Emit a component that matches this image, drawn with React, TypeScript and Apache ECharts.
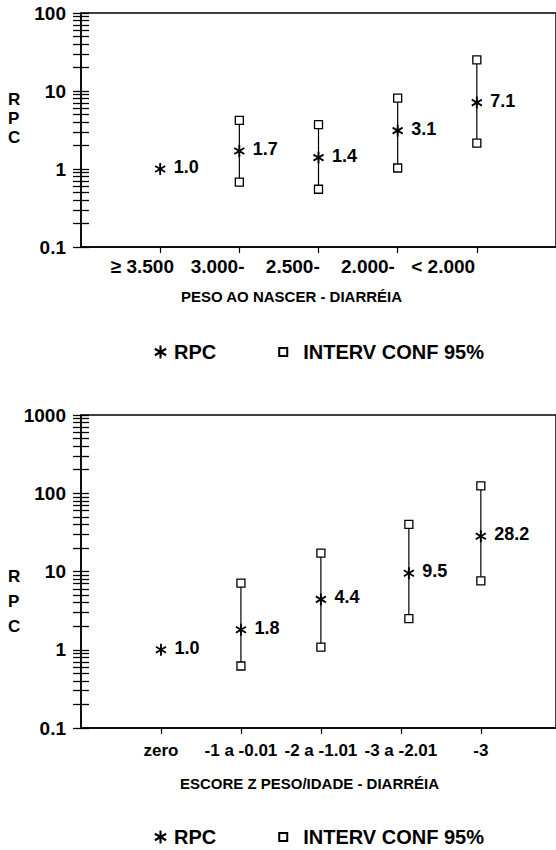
import React, { useEffect, useRef } from 'react';
import * as echarts from 'echarts';

// ---------- data ----------
const weightCategories = ['≥ 3.500', '3.000-', '2.500-', '2.000-', '< 2.000'];
const weightX = [1, 2, 3, 4, 5];
const weightRPC = [1.0, 1.7, 1.4, 3.1, 7.1];
const weightLow = [null, 0.68, 0.55, 1.03, 2.15];
const weightHigh = [null, 4.2, 3.7, 8.1, 25];

const zCategories = ['zero', '-1 a -0.01', '-2 a -1.01', '-3 a -2.01', '-3'];
const zX = [1, 2, 3, 4.1, 5];
const zRPC = [1.0, 1.8, 4.4, 9.5, 28.2];
const zLow = [null, 0.62, 1.08, 2.5, 7.6];
const zHigh = [null, 7.1, 17.2, 40, 124];

const topDecades = [0.1, 1, 10, 100];
const bottomDecades = [0.1, 1, 10, 100, 1000];
const minorFactors = [1, 2, 3, 4, 5, 6, 7, 8, 9];

const legendNames = ['RPC', 'INTERV CONF 95%'];
const yTitle = 'RPC';
const xTitleTop = 'PESO AO NASCER - DIARRÉIA';
const xTitleBottom = 'ESCORE Z PESO/IDADE - DIARRÉIA';

// ---------- helpers ----------
const FONT = '"Liberation Sans", Arial, Helvetica, sans-serif';
const STAR =
  'M4.2,0 L4.2,10 L5.8,10 L5.8,0 Z M8.93,8.193 L9.73,6.807 L1.07,1.807 L0.27,3.193 Z M0.27,6.807 L1.07,8.193 L9.73,3.193 L8.93,1.807 Z';
const starSymbol = 'path://' + STAR;
const starLegend = 'path://M-0.77,-0.38 M11.54,10.38 ' + STAR;
const squareLegend = 'path://M0,0 M16,14 M5,3 L13,3 L13,11 L5,11 Z';

function logTicks(decades: number[]) {
  const out: number[] = [];
  decades.forEach((d, i) => {
    if (i === decades.length - 1) {
      out.push(d);
      return;
    }
    minorFactors.forEach((f) => out.push(parseFloat((f * d).toPrecision(3))));
  });
  return out;
}

function yAxesFor(gridIndex: number, decades: number[]) {
  const ticksLog = logTicks(decades).map((v) => Math.log10(v));
  const lo = Math.log10(decades[0]);
  const hi = Math.log10(decades[decades.length - 1]);
  const tickAxis = (inside: boolean) => ({
    type: 'value',
    gridIndex,
    position: 'left',
    min: lo,
    max: hi,
    splitLine: { show: false },
    axisLine: { show: false, onZero: false },
    axisLabel: { show: false },
    axisTick: {
      show: true,
      inside,
      length: 8,
      customValues: ticksLog,
      lineStyle: { color: '#000', width: 1.3 },
    },
  });
  return [
    {
      type: 'log',
      logBase: 10,
      gridIndex,
      position: 'left',
      min: decades[0],
      max: decades[decades.length - 1],
      splitLine: { show: false },
      axisLine: { show: true, onZero: false, lineStyle: { color: '#000', width: 1.5 } },
      axisTick: { show: false },
      axisLabel: {
        color: '#000',
        fontFamily: FONT,
        fontSize: 19,
        fontWeight: 'bold',
        margin: 15,
        formatter: (v: number) => (v < 1 ? v.toFixed(1) : String(Math.round(v))),
      },
    },
    tickAxis(false),
    tickAxis(true),
  ];
}

function seriesFor(
  xAxisIndex: number,
  yAxisIndex: number,
  xs: number[],
  rpc: number[],
  low: (number | null)[],
  high: (number | null)[]
) {
  const ci: number[][] = [];
  const ends: number[][] = [];
  xs.forEach((x, i) => {
    const lo = low[i];
    const hi = high[i];
    if (lo != null && hi != null) {
      ci.push([x, lo, hi]);
      ends.push([x, lo]);
      ends.push([x, hi]);
    }
  });
  return [
    {
      type: 'custom',
      xAxisIndex,
      yAxisIndex,
      z: 1,
      silent: true,
      data: ci,
      encode: { x: 0, y: [1, 2] },
      renderItem: (params: any, api: any) => {
        const p1 = api.coord([api.value(0), api.value(1)]);
        const p2 = api.coord([api.value(0), api.value(2)]);
        return {
          type: 'line',
          shape: { x1: p1[0], y1: p1[1], x2: p2[0], y2: p2[1] },
          style: { stroke: '#000', lineWidth: 1.2 },
        };
      },
    },
    {
      name: legendNames[1],
      type: 'scatter',
      xAxisIndex,
      yAxisIndex,
      z: 3,
      symbol: 'rect',
      symbolSize: 8,
      itemStyle: { color: '#fff', borderColor: '#000', borderWidth: 1.3, opacity: 1 },
      data: ends,
    },
    {
      name: legendNames[0],
      type: 'scatter',
      xAxisIndex,
      yAxisIndex,
      z: 4,
      symbol: starSymbol,
      symbolSize: [11, 12],
      itemStyle: { color: '#000', opacity: 1 },
      label: {
        show: true,
        position: 'right',
        distance: 8,
        offset: [0, -2],
        color: '#000',
        fontFamily: FONT,
        fontSize: 18,
        fontWeight: 'bold',
        formatter: (p: any) => rpc[p.dataIndex].toFixed(1),
      },
      data: xs.map((x, i) => [x, rpc[i]]),
    },
  ];
}

function legendFor(top: number) {
  return {
    top,
    left: 148,
    orient: 'horizontal',
    selectedMode: false,
    itemWidth: 16,
    itemHeight: 14,
    itemGap: 57,
    textStyle: { color: '#000', fontFamily: FONT, fontSize: 20, fontWeight: 'bold' },
    data: [
      { name: legendNames[0], icon: starLegend },
      { name: legendNames[1], icon: squareLegend, textStyle: { padding: [0, 0, 0, 8] } },
    ],
  };
}

function yTitleText(top: number, lineHeight: number) {
  return {
    type: 'text',
    left: 8,
    top,
    silent: true,
    style: {
      text: yTitle.split('').join('\n'),
      fill: '#000',
      font: `bold 17px ${FONT}`,
      lineHeight,
      align: 'left',
    },
  };
}

export default function App() {
  const ref = useRef<HTMLDivElement>(null);

  useEffect(() => {
    if (!ref.current) return;
    const chart = echarts.init(ref.current, undefined, { renderer: 'svg' });

    const gridBase = { left: 81, right: -5, show: true, borderColor: '#000', borderWidth: 1.5 };
    const xTicks = weightX.map((_, i) => i + 1);

    const option: any = {
      animation: false,
      backgroundColor: '#fff',
      textStyle: { fontFamily: FONT },
      grid: [
        { ...gridBase, top: 13, height: 234 },
        { ...gridBase, top: 415, height: 313 },
      ],
      xAxis: [
        {
          type: 'value',
          gridIndex: 0,
          position: 'bottom',
          min: 0,
          max: 6,
          splitLine: { show: false },
          axisLine: { show: true, onZero: false, lineStyle: { color: '#000', width: 1.5 } },
          axisTick: { show: true, length: 6, customValues: xTicks, lineStyle: { color: '#000', width: 1.2 } },
          axisLabel: { show: false },
          name: xTitleTop,
          nameLocation: 'middle',
          nameGap: 42,
          nameTextStyle: { color: '#000', fontFamily: FONT, fontSize: 15, fontWeight: 'bold', padding: [0, 54, 0, 0] },
        },
        {
          type: 'value',
          gridIndex: 0,
          position: 'bottom',
          min: 1 - 62 / 76,
          max: 1 - 62 / 76 + 480 / 76,
          splitLine: { show: false },
          axisLine: { show: false, onZero: false },
          axisTick: { show: false },
          axisLabel: {
            show: true,
            customValues: xTicks,
            color: '#000',
            fontFamily: FONT,
            fontSize: 19,
            fontWeight: 'bold',
            margin: 10,
            formatter: (v: number) => weightCategories[Math.round(v) - 1] ?? '',
          },
        },
        {
          type: 'value',
          gridIndex: 1,
          position: 'bottom',
          min: 0,
          max: 5.94,
          splitLine: { show: false },
          axisLine: { show: true, onZero: false, lineStyle: { color: '#000', width: 1.5 } },
          axisTick: { show: true, length: 6, customValues: xTicks, lineStyle: { color: '#000', width: 1.2 } },
          axisLabel: {
            show: true,
            customValues: xTicks,
            color: '#000',
            fontFamily: FONT,
            fontSize: 17,
            fontWeight: 'bold',
            margin: 14,
            formatter: (v: number) => zCategories[Math.round(v) - 1] ?? '',
          },
          name: xTitleBottom,
          nameLocation: 'middle',
          nameGap: 48,
          nameTextStyle: { color: '#000', fontFamily: FONT, fontSize: 15, fontWeight: 'bold', padding: [0, 18, 0, 0] },
        },
      ],
      yAxis: [...yAxesFor(0, topDecades), ...yAxesFor(1, bottomDecades)],
      legend: [legendFor(337), legendFor(822)],
      graphic: [yTitleText(90, 19), yTitleText(564, 25)],
      series: [
        ...seriesFor(0, 0, weightX, weightRPC, weightLow, weightHigh),
        ...seriesFor(2, 3, zX, zRPC, zLow, zHigh),
      ],
    };

    chart.setOption(option);
    return () => chart.dispose();
  }, []);

  return (
    <div
      ref={ref}
      style={{ position: 'absolute', left: 0, top: 0, width: 556, height: 850, background: '#fff' }}
    />
  );
}
